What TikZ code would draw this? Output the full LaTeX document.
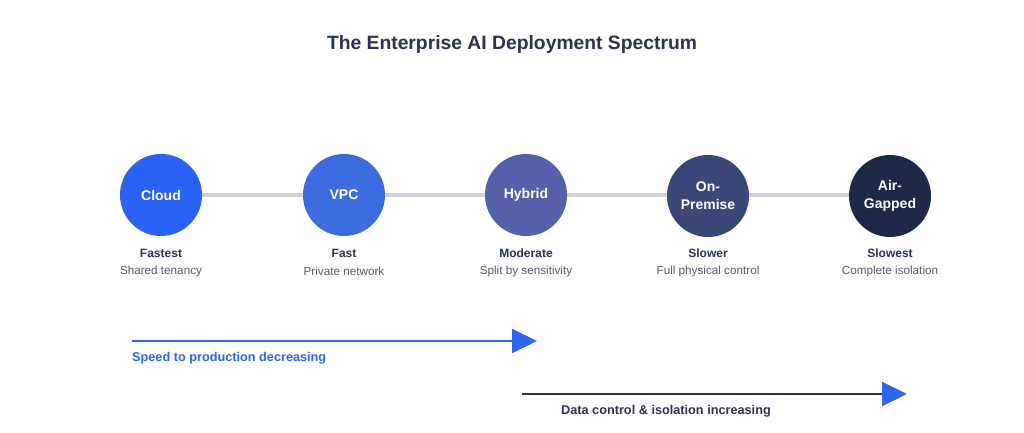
\documentclass[tikz,border=0pt]{standalone}
\usepackage{fontspec}
\setmainfont{Liberation Sans}
\usetikzlibrary{arrows.meta}
\definecolor{ttl}{HTML}{2A3350}
\definecolor{sub}{HTML}{555B66}
\definecolor{track}{HTML}{CBD2DC}
\definecolor{cA}{HTML}{2962F5}
\definecolor{cB}{HTML}{3D6BE0}
\definecolor{cC}{HTML}{5460AA}
\definecolor{cD}{HTML}{3A4878}
\definecolor{cE}{HTML}{1E2847}
\definecolor{blu}{HTML}{2F66F0}
\tikzset{
 stage/.style={circle,minimum size=82pt,inner sep=0pt,text=white,font=\bfseries\fontsize{14}{18}\selectfont,align=center},
 head/.style={text=ttl,font=\bfseries\fontsize{12}{14}\selectfont},
 desc/.style={text=sub,font=\fontsize{11.7}{13}\selectfont},
 tip/.style={-{Triangle[length=25pt,width=24pt,fill=blu,color=blu]}}
}
\begin{document}
\begin{tikzpicture}[x=1pt,y=-1pt]
\useasboundingbox[fill=white] (0,0) rectangle (1024,433);
\node[text=ttl,font=\bfseries\fontsize{19.3}{22}\selectfont] (title) at (512,45) {The Enterprise AI Deployment Spectrum};
\coordinate (l0) at (161,195); \coordinate (l1) at (890,195);
\draw[track,line width=4pt] (l0) -- (l1);
\node[stage,fill=cA] (n1) at (161,195) {Cloud};
\node[stage,fill=cB] (n2) at (344,195) {VPC};
\node[stage,fill=cC] (n3) at (526,195) {Hybrid};
\node[stage,fill=cD] (n4) at (708,196) {On-\\Premise};
\node[stage,fill=cE] (n5) at (890,196) {Air-\\Gapped};
\foreach \x/\a/\b/\n in {161/Fastest/Shared tenancy/1,344/Fast/Private network/2,526/Moderate/Split by sensitivity/3,708/Slower/Full physical control/4,890/Slowest/Complete isolation/5}{
 \node[head] (h\n) at (\x,253) {\a};
 \node[desc] (d\n) at (\x,271) {\b};
}
\coordinate (a1s) at (132,341); \coordinate (a1e) at (537,341);
\draw[blu,line width=2pt,tip] (a1s) -- (a1e);
\node[anchor=west,text=blu,font=\bfseries\fontsize{12.7}{14}\selectfont,inner sep=0pt] (t1) at (132,358) {Speed to production decreasing};
\coordinate (a2s) at (522,394); \coordinate (a2e) at (907,394);
\draw[ttl,line width=2pt,tip] (a2s) -- (a2e);
\node[anchor=west,text=ttl,font=\bfseries\fontsize{12.7}{14}\selectfont,inner sep=0pt] (t2) at (561,411) {Data control \& isolation increasing};
\end{tikzpicture}
\end{document}
